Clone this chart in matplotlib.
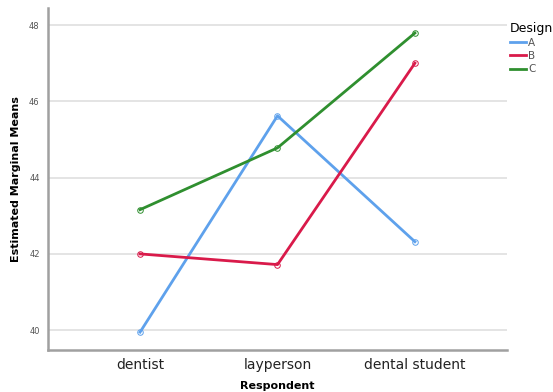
import matplotlib
matplotlib.use("Agg")
import matplotlib.pyplot as plt

respondents = ["dentist", "layperson", "dental student"]
design_a = [39.95, 45.62, 42.32]
design_b = [42.0, 41.72, 47.0]
design_c = [43.16, 44.78, 47.79]
designs = ["A", "B", "C"]
colors = ["#5ea1ec", "#d91a4a", "#2f8f2f"]
yticks = [40, 42, 44, 46, 48]

fig = plt.figure(figsize=(5.53, 3.92), dpi=100)
ax = fig.add_axes([0.0868, 0.107, 0.83, 0.873])

x = list(range(len(respondents)))
for vals, lab, c in zip([design_a, design_b, design_c], designs, colors):
    ax.plot(x, vals, color=c, lw=2.0, label=lab, marker="o", ms=4,
            mfc="none", mec=c, mew=0.7)

ax.set_xlim(-0.67, 2.67)
ax.set_ylim(39.48, 48.45)
ax.set_yticks(yticks)
ax.set_yticklabels([str(t) for t in yticks], fontsize=6, color="#555555")
ax.set_xticks(x)
ax.set_xticklabels(respondents, fontsize=10, color="#222222")
ax.tick_params(axis="both", length=0)
ax.tick_params(axis="y", pad=6)
ax.tick_params(axis="x", pad=6)
ax.grid(axis="y", color="#dddddd", lw=1.1)
ax.set_axisbelow(True)
for s in ["top", "right"]:
    ax.spines[s].set_visible(False)
for s in ["left", "bottom"]:
    ax.spines[s].set_color("#a0a0a0")
    ax.spines[s].set_linewidth(1.8)

ax.set_ylabel("Estimated Marginal Means", fontsize=8, fontweight="bold", labelpad=6)
ax.set_xlabel("Respondent", fontsize=8, fontweight="bold", labelpad=6)

leg = fig.legend(title="Design", loc="upper left", bbox_to_anchor=(0.914, 0.955),
                 frameon=False, fontsize=7.5, title_fontsize=9, handlelength=1.6,
                 handletextpad=0.2, labelspacing=0.3, borderaxespad=0)
for h in leg.legend_handles:
    h.set_marker("")
for t in leg.get_texts():
    t.set_color("#555555")
leg._legend_box.align = "left"

fig.savefig("out.png", dpi=100)
